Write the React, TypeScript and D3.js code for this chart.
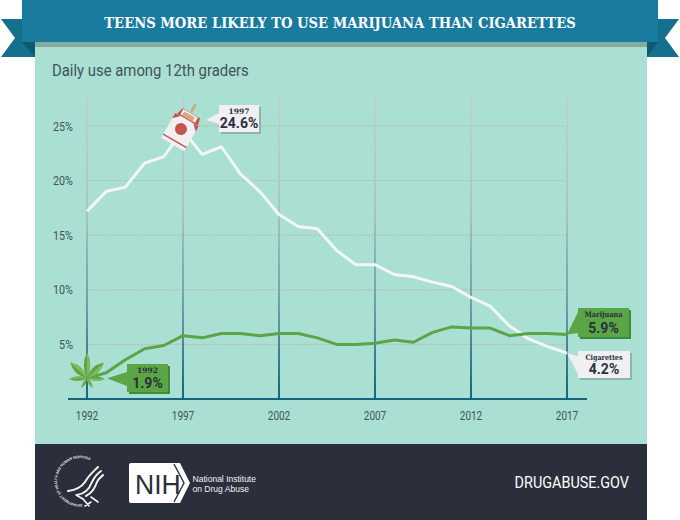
import React from "react";
import * as d3 from "d3";

const years = d3.range(1992, 2018);
const cigarettes = [17.2, 19.0, 19.4, 21.6, 22.2, 24.6, 22.4, 23.1, 20.6, 19.0, 16.9, 15.8, 15.6, 13.6, 12.3, 12.3, 11.4, 11.2, 10.7, 10.3, 9.3, 8.5, 6.7, 5.5, 4.8, 4.2];
const marijuana = [1.9, 2.4, 3.6, 4.6, 4.9, 5.8, 5.6, 6.0, 6.0, 5.8, 6.0, 6.0, 5.6, 5.0, 5.0, 5.1, 5.4, 5.2, 6.1, 6.6, 6.5, 6.5, 5.8, 6.0, 6.0, 5.9];
const xTicks = [1992, 1997, 2002, 2007, 2012, 2017];
const yTicks = [5, 10, 15, 20, 25];

const x = d3.scaleLinear().domain([1992, 2017]).range([87, 567]);
const y = d3.scaleLinear().domain([0, 25]).range([399, 126]);
const line = d3.line<number>().x((_, i) => x(years[i])).y((d) => y(d)).curve(d3.curveLinear);

const ROBOTO = "Roboto, sans-serif";
const SLAB = "'DejaVu Serif', serif";
const SANS = "'Liberation Sans', sans-serif";
const LABEL = "#3f5557";
const INK = "#2b2f3f";

function Squeezed({ xx, yy, size, sx = 1, children, fill = LABEL, anchor = "start", weight = 400, family = ROBOTO }: any) {
  return (
    <text transform={`translate(${xx},${yy}) scale(${sx},1)`} fontSize={size} fontFamily={family} fill={fill} textAnchor={anchor} fontWeight={weight}>
      {children}
    </text>
  );
}

function Callout({ box, pointer, fill, shadow, top, bottom, topSx = 1, topSize = 7 }: any) {
  const [x0, y0, x1, y1] = box;
  const cx = (x0 + x1) / 2;
  return (
    <g>
      <rect x={x0 + 2} y={y0 + 2} width={x1 - x0} height={y1 - y0} fill={shadow} />
      <polygon points={pointer} fill={fill} />
      <rect x={x0} y={y0} width={x1 - x0} height={y1 - y0} fill={fill} />
      <Squeezed xx={cx} yy={y0 + 9} size={topSize} sx={topSx} fill={INK} anchor="middle" weight={700} family={SLAB}>{top}</Squeezed>
      <Squeezed xx={cx} yy={y1 - 4} size={14} fill={INK} anchor="middle" weight={700}>{bottom}</Squeezed>
    </g>
  );
}

function Pack({ cx, cy }: { cx: number; cy: number }) {
  return (
    <g transform={`translate(${cx},${cy}) rotate(30)`}>
      <rect x={-1} y={-27} width={2.6} height={9} fill="#c9a97f" />
      <path d="M-11,-9 L-9,-17 L11,-17 L13,-9 Z" fill="#c5534e" />
      <rect x={-8} y={-16.5} width={17} height={6} fill="#f2ece6" />
      <rect x={-6} y={-15} width={12} height={5} fill="#dca57e" />
      <rect x={-13} y={-9} width={27} height={28.5} fill="#f1efef" />
      <path d="M-13,-9 L-7,-9 L-13,-3 Z M14,-9 L8,-9 L14,-3 Z" fill="#c5534e" />
      <circle cx={0} cy={2} r={6} fill="#c5534e" />
      <rect x={-13} y={14.5} width={27} height={1.4} fill="#c5534e" />
    </g>
  );
}

const leafBlades: [number, number, number][] = [[0, 26, 6.5], [-47, 23, 7], [47, 23, 7], [-92, 18, 4.5], [92, 18, 4.5], [-150, 11, 3], [150, 11, 3]];

function Leaf({ cx, cy }: { cx: number; cy: number }) {
  return (
    <g transform={`translate(${cx},${cy})`}>
      {leafBlades.map(([a, l, w], i) => (
        <g key={i} transform={`rotate(${a})`}>
          <path d={`M0,0 Q${-w},${-l * 0.5} 0,${-l} Q${w},${-l * 0.5} 0,0 Z`} fill="#5ca540" />
          <path d={`M0,0 Q${w},${-l * 0.5} 0,${-l} Z`} fill="#7dbb5e" />
        </g>
      ))}
    </g>
  );
}

function Seal() {
  const cx = 80, cy = 481, r = 23;
  return (
    <g>
      <defs>
        <path id="sealArc" d={`M${cx + 2},${cy + r} A${r},${r} 0 1 1 ${cx + r * 0.8},${cy - r * 0.6}`} />
      </defs>
      <text fontSize={3.5} fontFamily={ROBOTO} fontWeight={700} fill="#e8e8e8" letterSpacing={0.1}>
        <textPath href="#sealArc">DEPARTMENT OF HEALTH AND HUMAN SERVICES</textPath>
      </text>
      <g fill="none" stroke="#f4f4f4" strokeLinecap="round">
        <path d="M68,491 C75,490 81,488 85,482 C89,475 93,472 98,467" strokeWidth={2} />
        <path d="M77,495 C84,494 89,490 92,482 C95,476 98,473 101,471" strokeWidth={2} />
        <path d="M86,496 C92,493 95,488 97,482 C98,479 101,477 103,475" strokeWidth={2} />
        <path d="M76,495 L83,499 L89,506 M85,506 L91,502 M91,497 L98,502" strokeWidth={1.6} />
      </g>
    </g>
  );
}

function NihLogo() {
  return (
    <g>
      <path d="M131,463 H180 L190,483 L180,503 H131 Q129,503 129,501 V465 Q129,463 131,463 Z" fill="#ffffff" />
      <path d="M174,464 L184,483 L174,502" fill="none" stroke="#2b2f3b" strokeWidth={1.4} />
      <Squeezed xx={135} yy={493.5} size={28} sx={0.95} fill="#2b2f3b" family={SANS}>NIH</Squeezed>
      <Squeezed xx={192.5} yy={482} size={8.2} sx={1.04} fill="#f2f2f2" family={SANS}>National Institute</Squeezed>
      <Squeezed xx={192.5} yy={491.5} size={8.2} sx={1.04} fill="#f2f2f2" family={SANS}>on Drug Abuse</Squeezed>
    </g>
  );
}

export default function App() {
  const last = years.length - 1;
  const peak = years.indexOf(1997);
  return (
    <svg width={680} height={520} viewBox="0 0 680 520" style={{ position: "absolute", left: 0, top: 0, background: "#fff" }}>
      <defs>
        <linearGradient id="vline" gradientUnits="userSpaceOnUse" x1={0} x2={0} y1={97} y2={399}>
          <stop offset="0" stopColor="#c4cfcc" />
          <stop offset="0.35" stopColor="#aec5c3" />
          <stop offset="0.7" stopColor="#6b9ea6" />
          <stop offset="1" stopColor="#17637c" />
        </linearGradient>
      </defs>

      {/* ribbon tails */}
      <polygon points="1,19 35,19 35,57 1,57 15,38" fill="#14708c" />
      <polygon points="679,19 647,19 647,57 679,57 665,38" fill="#14708c" />
      <polygon points="22,42 35,42 35,57" fill="#0e5a72" />
      <polygon points="658,42 647,42 647,57" fill="#0e5a72" />

      {/* panel */}
      <rect x={35} y={42} width={612} height={402} fill="#aadfd3" />
      <rect x={35} y={42} width={612} height={5} fill="#84ad9f" />
      <rect x={22} y={0} width={636} height={42} fill="#197c9f" />
      <Squeezed xx={340} yy={27.5} size={15.5} sx={0.85} fill="#fff" anchor="middle" weight={700} family={SLAB}>TEENS MORE LIKELY TO USE MARIJUANA THAN CIGARETTES</Squeezed>

      <Squeezed xx={52} yy={76} size={17} sx={0.875}>Daily use among 12th graders</Squeezed>

      {/* gridlines */}
      {yTicks.map((t) => (
        <g key={t}>
          <line x1={x(1992)} x2={x(2017)} y1={y(t)} y2={y(t)} stroke="#b9b79f" strokeWidth={1} strokeDasharray="2 1.6" />
          <Squeezed xx={73} yy={y(t) + 4.5} size={12.5} sx={0.86} anchor="end">{`${t}%`}</Squeezed>
        </g>
      ))}
      {xTicks.map((t) => (
        <g key={t}>
          <rect x={x(t) - 1} y={97} width={2} height={302} fill="url(#vline)" />
          <Squeezed xx={x(t)} yy={420} size={12.5} sx={0.8} anchor="middle">{String(t)}</Squeezed>
        </g>
      ))}
      <line x1={68} x2={587} y1={399} y2={399} stroke="#17637c" strokeWidth={2} />

      {/* series */}
      <path d={line(cigarettes) ?? ""} fill="none" stroke="#f1f7f6" strokeWidth={3} strokeLinejoin="round" />
      <path d={line(marijuana) ?? ""} fill="none" stroke="#5aa545" strokeWidth={3} strokeLinejoin="round" />

      {/* pack and leaf markers */}
      <Pack cx={x(1997) - 1} cy={y(cigarettes[peak]) - 3} />
      <Leaf cx={x(1992)} cy={y(marijuana[0])} />

      {/* callouts */}
      <Callout box={[219, 105, 259, 132]} pointer="206,120 219,113 219,124" fill="#f0eff2" shadow="#8eb5ad" top="1997" bottom="24.6%" topSize={7.5} />
      <Callout box={[127, 364, 168, 392]} pointer={`${x(1992) + 20},${y(marijuana[0])} 127,372 127,386`} fill="#5aa545" shadow="#3d8a3c" top="1992" bottom="1.9%" topSize={7.5} />
      <Callout box={[578, 308, 629, 337]} pointer={`${x(2017)},${y(marijuana[last])} 578,312 578,333`} fill="#5aa545" shadow="#3d8a3c" top="Marijuana" bottom="5.9%" topSize={7.5} topSx={0.88} />
      <Callout box={[578, 351, 630, 378]} pointer={`${x(2017)},${y(cigarettes[last])} 578,356 578,374`} fill="#f0eff2" shadow="#8eb5ad" top="Cigarettes" bottom="4.2%" topSize={7.5} topSx={0.85} />

      {/* footer */}
      <rect x={35} y={444} width={612} height={76} fill="#2b2f3b" />
      <Seal />
      <NihLogo />
      <Squeezed xx={629} yy={488} size={16} sx={0.9} fill="#fff" anchor="end">DRUGABUSE.GOV</Squeezed>
    </svg>
  );
}
